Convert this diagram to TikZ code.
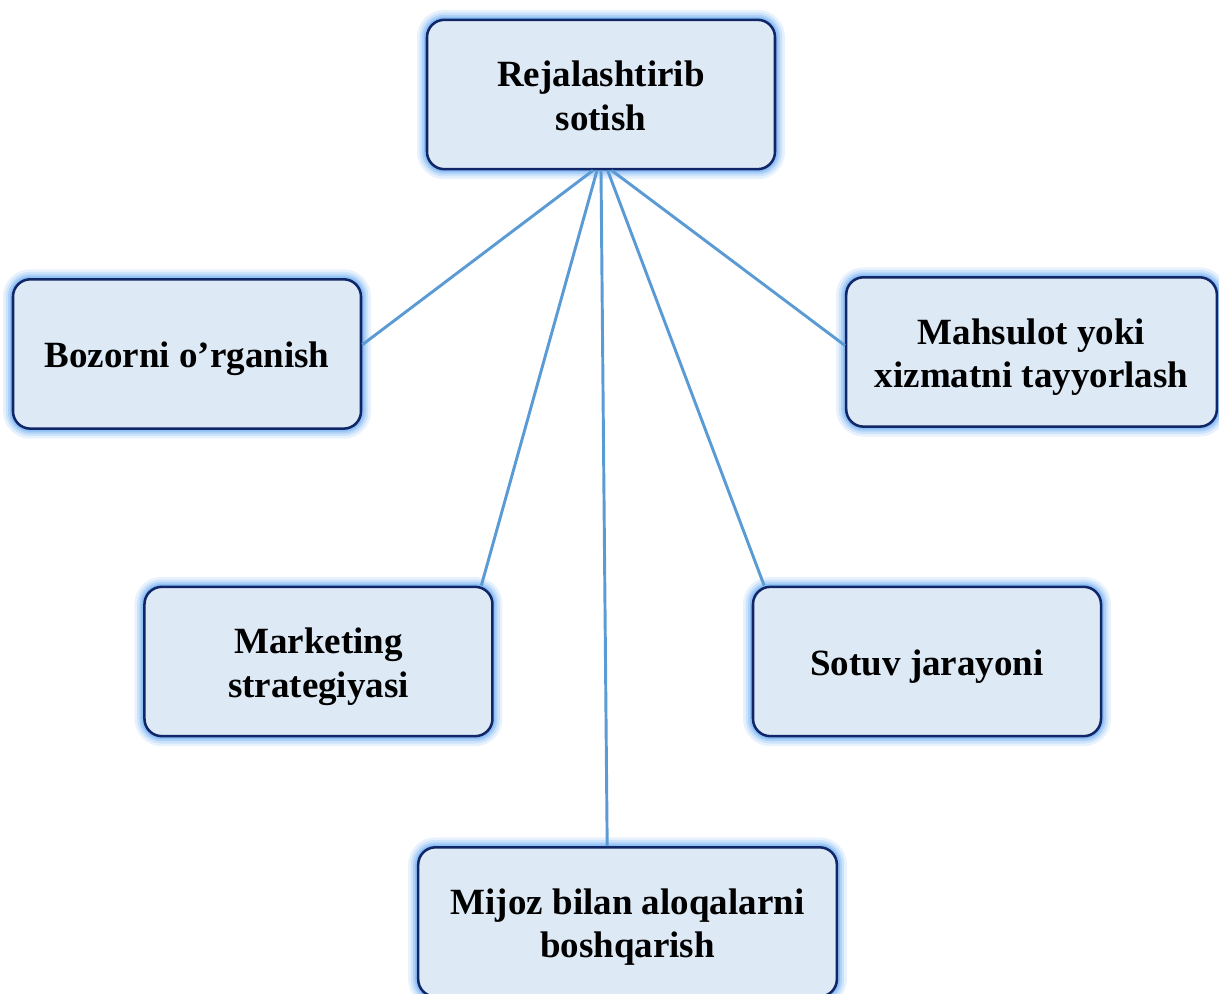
\documentclass[tikz,border=0pt]{standalone}
\usepackage{fontspec}
\setmainfont{Liberation Serif}
\usepackage{tikz}
\usetikzlibrary{positioning}

\definecolor{boxfill}{RGB}{222,233,246}
\definecolor{boxborder}{RGB}{16,38,102}
\definecolor{glowblue}{RGB}{130,185,245}
\definecolor{linkblue}{RGB}{91,155,213}

% text a little below the middle of the box
\newcommand{\boxtext}[1]{\raisebox{-4pt}[\height][\depth]{\begin{tabular}{@{}c@{}}#1\end{tabular}}}

\tikzset{
	block/.style={draw=boxborder, line width=1.9pt, fill=boxfill, rounded corners=13pt,
		minimum width=261pt, minimum height=112pt, inner sep=0pt,
		font=\bfseries\fontsize{27.75pt}{32.6pt}\selectfont,
		preaction={draw=glowblue!18, line width=15pt, rounded corners=13pt},
		preaction={draw=glowblue!40, line width=11pt, rounded corners=13pt},
		preaction={draw=glowblue!65, line width=7.5pt, rounded corners=13pt},
		preaction={draw=glowblue!90, line width=4.5pt, rounded corners=13pt}},
	link/.style={draw=linkblue, line width=2.2pt}
}

\begin{document}
\begin{tikzpicture}[x=0.75pt, y=-0.75pt, on grid]
		\useasboundingbox (0,0) rectangle (1219,994);
		\node[block]	(Sotish) at (601,94.5) {\boxtext{Rejalashtirib\\sotish}};
		\node[block, below left=194.6pt and 310.5pt of Sotish]	(Bozor) {\boxtext{Bozorni o’rganish}};
		\node[block, minimum width=278pt, below right=193.1pt and 322.9pt of Sotish]	(Mahsulot) {\boxtext{Mahsulot yoki\\xizmatni tayyorlash}};
		\node[block, below left=425.25pt and 211.9pt of Sotish]	(Marketing) {\boxtext{Marketing\\strategiyasi}};
		\node[block, below right=425.25pt and 244.5pt of Sotish]	(Sotuv) {\boxtext{Sotuv jarayoni}};
		\node[block, minimum width=314pt, below right=620.6pt and 19.9pt of Sotish]	(Mijoz) {\boxtext{Mijoz bilan aloqalarni\\boshqarish}};
		
		\draw[link] (Sotish.-96) -- (Bozor.3);
		\draw[link] (Sotish.-93) -- (Marketing.25);
		\draw[link] (Sotish.-90) -- (Mijoz.105);
		\draw[link] (Sotish.-85) -- (Sotuv.155);
		\draw[link] (Sotish.-82) -- (Mahsulot.178);
	\end{tikzpicture}
\end{document}
